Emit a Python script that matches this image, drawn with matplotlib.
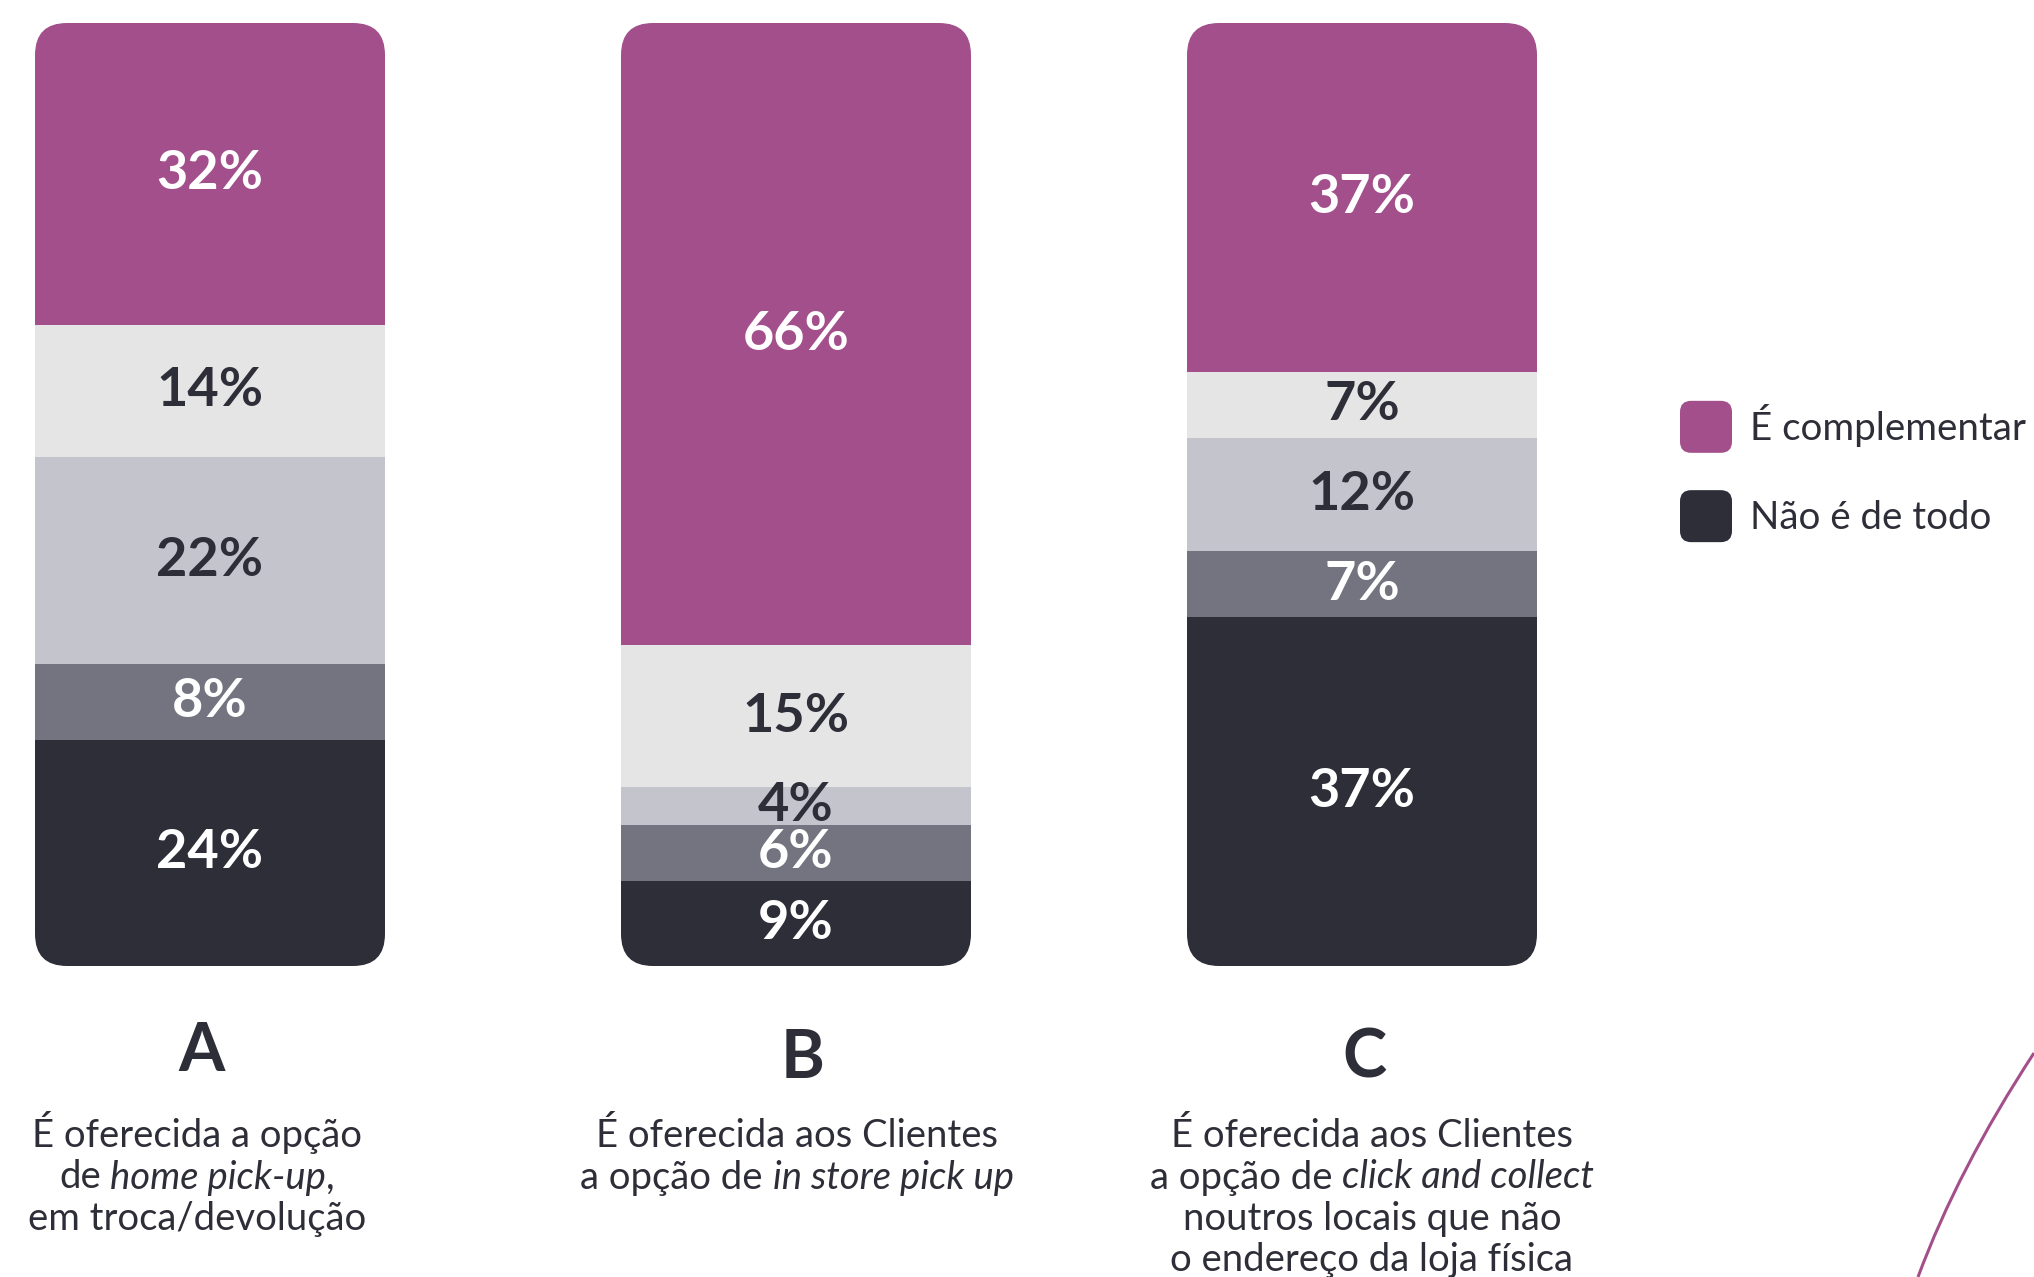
import matplotlib
matplotlib.use("Agg")
import matplotlib.pyplot as plt
from matplotlib.patches import FancyBboxPatch, Patch, PathPatch
from matplotlib.legend_handler import HandlerPatch
from matplotlib.path import Path

# ---- data -------------------------------------------------------------
categories = ["A", "B", "C"]
nao_e_de_todo = [24, 9, 37]      # bottom segment
nivel_2 = [8, 6, 7]
nivel_3 = [22, 4, 12]
nivel_4 = [14, 15, 7]
e_complementar = [32, 66, 37]    # top segment

legend_labels = ["É complementar", "Não é de todo"]

descriptions = [
    [[("É oferecida a opção", "normal")],
     [("de", "normal"), (" ", None), ("home pick-up", "italic"), (",", "normal")],
     [("em troca/devolução", "normal")]],
    [[("É oferecida aos Clientes", "normal")],
     [("a opção de", "normal"), (" ", None), ("in store pick up", "italic")]],
    [[("É oferecida aos Clientes", "normal")],
     [("a opção de", "normal"), (" ", None), ("click and collect", "italic")],
     [("noutros locais que não", "normal")],
     [("o endereço da loja física", "normal")]],
]

# ---- style / layout ---------------------------------------------------
W, H = 2034, 1277
PURPLE = "#A34F8C"
OFFBLACK = "#2E2E38"
colors = [OFFBLACK, "#747480", "#C4C4CD", "#E5E5E5", PURPLE]
label_colors = ["white", "white", OFFBLACK, OFFBLACK, "white"]
FONT = "Lato"
DESC_SIZE = 27.5

bar_centres = [210, 796, 1362]   # horizontal axis in pixel units
letter_centres = [202, 803, 1364]
letter_baselines = [1071, 1078, 1077]
desc_centres = [197, 797, 1372]
bar_width = 350
bar_bottom_px, bar_top_px = 966, 23
corner = 32

fig = plt.figure(figsize=(W / 100, H / 100), dpi=100)
fig.patch.set_facecolor("white")
ax = fig.add_axes([0, (H - bar_bottom_px) / H, 1, (bar_bottom_px - bar_top_px) / H])
ax.set_xlim(0, W)
ax.set_ylim(0, 100)
ax.axis("off")

px_per_unit = (bar_bottom_px - bar_top_px) / 100.0

stack = [nao_e_de_todo, nivel_2, nivel_3, nivel_4, e_complementar]
for i, xc in enumerate(bar_centres):
    total = sum(s[i] for s in stack)
    clip = FancyBboxPatch((xc - bar_width / 2, 0), bar_width, total,
                          boxstyle=f"round,pad=0,rounding_size={corner}",
                          mutation_aspect=1 / px_per_unit,
                          facecolor="none", edgecolor="none",
                          transform=ax.transData)
    ax.add_patch(clip)
    bottom = 0
    for s, col, lcol in zip(stack, colors, label_colors):
        v = s[i]
        bars = ax.bar(xc, v, width=bar_width, bottom=bottom, color=col,
                      edgecolor="none", linewidth=0)
        for b in bars:
            b.set_clip_path(clip)
        ax.text(xc, bottom + v / 2, f"{v}%", ha="center", va="center",
                fontsize=39, fontweight="bold", family=FONT, color=lcol)
        bottom += v

# ---- category letters and descriptions ---------------------------------
renderer = fig.canvas.get_renderer()


def text_width(s, style):
    t = fig.text(0, 0, s, fontsize=DESC_SIZE, family=FONT, style=style)
    w = t.get_window_extent(renderer).width
    t.remove()
    return w


space_w = text_width("x x", "normal") - text_width("xx", "normal")


def rich_line(xc, baseline_px, pieces):
    arts, widths = [], []
    for s, style in pieces:
        if style is None:
            arts.append(None)
            widths.append(space_w)
            continue
        t = fig.text(0, 0, s, fontsize=DESC_SIZE, family=FONT, style=style,
                     color=OFFBLACK, va="baseline", ha="left")
        arts.append(t)
        widths.append(t.get_window_extent(renderer).width)
    x = xc - sum(widths) / 2
    for t, w in zip(arts, widths):
        if t is not None:
            t.set_position((x / W, 1 - baseline_px / H))
        x += w


for lx, ly, dx, cat, lines in zip(letter_centres, letter_baselines,
                                  desc_centres, categories, descriptions):
    fig.text(lx / W, 1 - ly / H, cat, ha="center", va="baseline",
             fontsize=48, fontweight="bold", family=FONT, color=OFFBLACK)
    for k, pieces in enumerate(lines):
        rich_line(dx, 1147 + 41.5 * k, pieces)

# ---- legend -------------------------------------------------------------
SQUARE_PX = 52


class RoundedSquare(HandlerPatch):
    def create_artists(self, legend, orig_handle, xdescent, ydescent,
                       width, height, fontsize, trans):
        size = width
        y0 = -ydescent + (height - size) / 2
        p = FancyBboxPatch((-xdescent, y0), size, size,
                           boxstyle="round,pad=0,rounding_size=8",
                           facecolor=orig_handle.get_facecolor(),
                           edgecolor="none", transform=trans)
        return [p]


LEG_SIZE = 27.7
leg_font_px = LEG_SIZE * 100 / 72
handles = [Patch(facecolor=PURPLE), Patch(facecolor=OFFBLACK)]
leg = fig.legend(handles, legend_labels, loc="upper left",
                 bbox_to_anchor=(1680 / W, 1 - 404 / H),
                 bbox_transform=fig.transFigure,
                 frameon=False, borderpad=0, borderaxespad=0,
                 handlelength=SQUARE_PX / leg_font_px, handleheight=1.0,
                 handletextpad=18 / leg_font_px,
                 labelspacing=1.35,
                 handler_map={Patch: RoundedSquare()},
                 prop={"family": FONT, "size": LEG_SIZE})
for t in leg.get_texts():
    t.set_color(OFFBLACK)

# ---- decorative arc in the lower right corner ---------------------------
p0, c, p2 = (2034, 1053), (1958, 1169), (1918, 1277)
arc = Path([(p0[0] / W, 1 - p0[1] / H), (c[0] / W, 1 - c[1] / H),
            (p2[0] / W, 1 - p2[1] / H)],
           [Path.MOVETO, Path.CURVE3, Path.CURVE3])
fig.add_artist(PathPatch(arc, facecolor="none", edgecolor=PURPLE, lw=2.2,
                         transform=fig.transFigure))

fig.savefig("out.png", dpi=100, facecolor="white")
